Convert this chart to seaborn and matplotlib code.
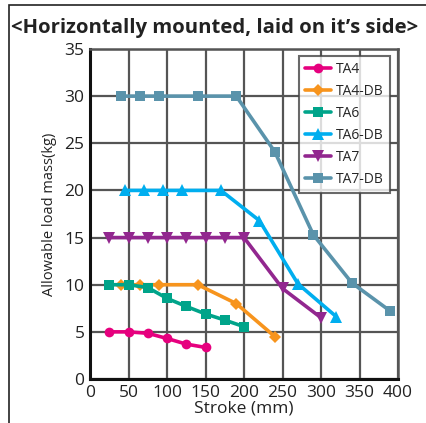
import numpy as np
import pandas as pd
import seaborn as sns
import matplotlib.pyplot as plt
from matplotlib.patches import Rectangle

# Data
stroke_ta4 = [25, 50, 75, 100, 125, 150]
load_ta4 = [5.0, 5.0, 4.85, 4.3, 3.7, 3.35]

stroke_ta4db = [40, 65, 90, 140, 190, 240]
load_ta4db = [10.0, 10.0, 10.0, 10.0, 8.0, 4.5]

stroke_ta6 = [25, 50, 75, 100, 125, 150, 175, 200]
load_ta6 = [10.0, 10.0, 9.7, 8.55, 7.7, 6.9, 6.25, 5.55]

stroke_ta6db = [45, 70, 95, 120, 170, 220, 270, 320]
load_ta6db = [20.0, 20.0, 20.0, 20.0, 20.0, 16.8, 10.1, 6.6]

stroke_ta7 = [25, 50, 75, 100, 125, 150, 175, 200, 250, 300]
load_ta7 = [15.0, 15.0, 15.0, 15.0, 15.0, 15.0, 15.0, 15.0, 9.6, 6.5]

stroke_ta7db = [40, 65, 90, 140, 190, 240, 290, 340, 390]
load_ta7db = [30.0, 30.0, 30.0, 30.0, 30.0, 24.1, 15.3, 10.2, 7.2]

models = ["TA4", "TA4-DB", "TA6", "TA6-DB", "TA7", "TA7-DB"]
strokes = [stroke_ta4, stroke_ta4db, stroke_ta6, stroke_ta6db, stroke_ta7, stroke_ta7db]
loads = [load_ta4, load_ta4db, load_ta6, load_ta6db, load_ta7, load_ta7db]

colors = {"TA4": "#e6007e", "TA4-DB": "#f7941d", "TA6": "#00a48a",
          "TA6-DB": "#00aeef", "TA7": "#92278f", "TA7-DB": "#5a93ab"}
markers = {"TA4": "o", "TA4-DB": "D", "TA6": "s",
           "TA6-DB": "^", "TA7": "v", "TA7-DB": "s"}
msizes = {"TA4": 7, "TA4-DB": 6.5, "TA6": 7, "TA6-DB": 8.5, "TA7": 8.5, "TA7-DB": 7}

df = pd.concat([pd.DataFrame({"stroke": s, "load": l, "model": m})
                for m, s, l in zip(models, strokes, loads)], ignore_index=True)

sns.set_theme(style="white")
plt.rcParams['font.family'] = ['Open Sans', 'DejaVu Sans']

W, H = 426, 423
fig = plt.figure(figsize=(W / 100, H / 100), dpi=100)
ax = fig.add_axes([90 / W, 1 - 379 / H, (398 - 90) / W, (379 - 49) / H])

for m in models:
    sub = df[df["model"] == m]
    sns.lineplot(data=sub, x="stroke", y="load", ax=ax, color=colors[m], label=m,
                 marker=markers[m], markersize=msizes[m], markeredgewidth=0,
                 linewidth=2.6)

ax.set_xlim(0, 400)
ax.set_ylim(0, 35)
ax.set_xticks(np.arange(0, 401, 50))
ax.set_yticks(np.arange(0, 36, 5))
ax.grid(True, color="#555555", linewidth=1.6)
ax.set_axisbelow(True)
ax.tick_params(axis="both", labelsize=12.5, length=0, pad=4, colors="#222222")
for side in ["left", "bottom"]:
    ax.spines[side].set_color("#111111")
    ax.spines[side].set_linewidth(2.2)
for side in ["top", "right"]:
    ax.spines[side].set_color("#555555")
    ax.spines[side].set_linewidth(1.8)

ax.set_xlabel("Stroke (mm)", fontsize=12.5, color="#222222", labelpad=0)
ax.set_ylabel("Allowable load mass(kg)", fontsize=10.5, color="#222222", labelpad=5)

leg = ax.legend(loc="upper right", bbox_to_anchor=(390 / W, 1 - 56 / H),
                bbox_transform=fig.transFigure, borderaxespad=0,
                fontsize=10, frameon=True, fancybox=False, handlelength=1.9,
                labelspacing=0.5, handletextpad=0.35, borderpad=0.45)
leg.get_frame().set_edgecolor("#444444")
leg.get_frame().set_linewidth(1.5)

fig.text(11 / W, 1 - 33 / H, "<Horizontally mounted, laid on it\u2019s side>",
         fontsize=14.6, fontweight="bold", color="#222222", ha="left", va="baseline")

fig.patches.append(Rectangle((9 / W, -0.1), 1.2, 1 - 5 / H + 0.1,
                             transform=fig.transFigure, fill=False,
                             edgecolor="#222222", linewidth=1.2))

fig.savefig("out.png", dpi=100)
